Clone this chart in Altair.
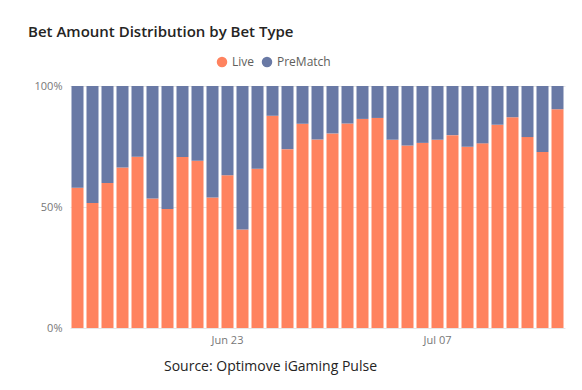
import altair as alt
import pandas as pd

dates = ["Jun 13", "Jun 14", "Jun 15", "Jun 16", "Jun 17", "Jun 18", "Jun 19", "Jun 20",
         "Jun 21", "Jun 22", "Jun 23", "Jun 24", "Jun 25", "Jun 26", "Jun 27", "Jun 28",
         "Jun 29", "Jun 30", "Jul 01", "Jul 02", "Jul 03", "Jul 04", "Jul 05", "Jul 06",
         "Jul 07", "Jul 08", "Jul 09", "Jul 10", "Jul 11", "Jul 12", "Jul 13", "Jul 14",
         "Jul 15"]
live = [0.580, 0.517, 0.599, 0.663, 0.708, 0.535, 0.492, 0.707, 0.691, 0.539, 0.631,
        0.407, 0.658, 0.877, 0.739, 0.844, 0.779, 0.804, 0.845, 0.864, 0.868, 0.778,
        0.754, 0.765, 0.778, 0.797, 0.749, 0.763, 0.840, 0.871, 0.789, 0.727, 0.904]
prematch = [round(1 - v, 3) for v in live]
series = ["Live", "PreMatch"]
colors = ["#FF835F", "#6979A5"]
tick_labels = ["Jun 23", "Jul 07"]

rows = []
for d, l, p in zip(dates, live, prematch):
    rows.append({"date": d, "type": "Live", "value": l})
    rows.append({"date": d, "type": "PreMatch", "value": p})
df = pd.DataFrame(rows)

FONT = "Open Sans"

chart = alt.Chart(df).mark_bar().encode(
    x=alt.X("date:N", sort=dates,
            scale=alt.Scale(paddingInner=0.2, paddingOuter=0.1),
            axis=alt.Axis(values=tick_labels, labelAngle=0, ticks=False, domain=False,
                          labelColor="#777777", labelFontSize=11, labelFont=FONT,
                          labelPadding=6,
                          title="Source: Optimove iGaming Pulse", titleFont=FONT,
                          titleFontSize=14, titleFontWeight="normal", titleColor="#252423",
                          titleX=200, titleY=31, titleAlign="center")),
    y=alt.Y("value:Q", stack="normalize",
            axis=alt.Axis(values=[0, 0.5, 1], format="%", title=None, ticks=False,
                          domain=False, labelColor="#777777", labelFontSize=11,
                          labelFont=FONT, labelPadding=8, gridColor="#E6E6E6")),
    color=alt.Color("type:N", scale=alt.Scale(domain=series, range=colors),
                    legend=alt.Legend(title=None, orient="none", legendX=146, legendY=-30,
                                      direction="horizontal", symbolType="circle",
                                      symbolSize=110, symbolStrokeWidth=0,
                                      labelFont=FONT, labelFontSize=12,
                                      labelColor="#605E5C", columnPadding=6,
                                      symbolOpacity=1)),
    order=alt.Order("type:N", sort="ascending"),
).properties(
    width=495, height=242,
    title=alt.TitleParams("Bet Amount Distribution by Bet Type", anchor="start",
                          font=FONT, fontSize=15, fontWeight=600, color="#252423",
                          dx=-6, offset=16),
    autosize=alt.AutoSizeParams(type="none"),
    padding={"left": 62, "top": 78, "right": 9, "bottom": 54},
).configure_view(stroke=None)

chart.save("out.html", embed_options={"renderer": "svg", "actions": False})
